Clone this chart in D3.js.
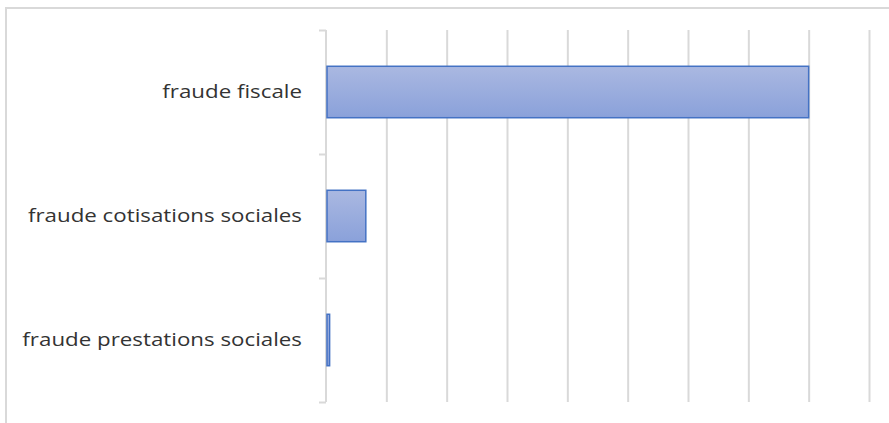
<!DOCTYPE html>
<html>
<head>
<meta charset="utf-8">
<script src="https://cdn.jsdelivr.net/npm/d3@7"></script>
<style>
  body { margin: 0; background: #fff; }
  .grid line { stroke: #d9d9d9; stroke-width: 2; }
  .grid path { display: none; }
  .y.axis text { font-family: "Open Sans", sans-serif; font-size: 18px; fill: #333; }
</style>
</head>
<body>
<div class="bar-chart-container"></div>
<script>
// données (en milliards ?)
const categories = ['fraude fiscale', 'fraude cotisations sociales', 'fraude prestations sociales'];
const values = [80, 6.6, 0.6];
const xTicks = [0, 10, 20, 30, 40, 50, 60, 70, 80, 90];

const svg_width = 889;
const svg_height = 423;
const margin = { top: 30, right: 20, bottom: 21, left: 326 };

const svg = d3.select('.bar-chart-container').append('svg')
  .attr('width', svg_width).attr('height', svg_height);

// cadre gris du graphique
svg.append('rect')
  .attr('x', 6).attr('y', 8)
  .attr('width', svg_width + 20).attr('height', svg_height + 20)
  .attr('fill', 'none').attr('stroke', '#d9d9d9').attr('stroke-width', 2);

// dégradé des barres
const grad = svg.append('defs').append('linearGradient')
  .attr('id', 'barGrad').attr('x1', 0).attr('y1', 0).attr('x2', 0).attr('y2', 1);
grad.append('stop').attr('offset', '0%').attr('stop-color', '#aab8e1');
grad.append('stop').attr('offset', '100%').attr('stop-color', '#8aa1da');

const xScale = d3.scaleLinear().domain([0, 90]).range([margin.left, 869]);
const yScale = d3.scaleBand().domain(categories)
  .range([margin.top, svg_height - margin.bottom])
  .paddingInner(0.585).paddingOuter(0.2925);
// limites des catégories pour les petites graduations
const yEdges = d3.scaleLinear().domain([0, categories.length])
  .range([margin.top, svg_height - margin.bottom]);

// lignes de grille verticales
svg.append('g').attr('class', 'grid')
  .attr('transform', `translate(0, ${margin.top})`)
  .call(d3.axisBottom(xScale).tickValues(xTicks.slice(1))
    .tickSize(svg_height - margin.bottom - margin.top).tickFormat(''));

// axe vertical + graduations aux limites
svg.append('g').attr('class', 'grid')
  .attr('transform', `translate(${margin.left}, 0)`)
  .call(d3.axisLeft(yEdges).ticks(3).tickSize(7).tickFormat(''));
svg.append('line')
  .attr('x1', margin.left).attr('x2', margin.left)
  .attr('y1', margin.top).attr('y2', svg_height - margin.bottom)
  .attr('stroke', '#d9d9d9').attr('stroke-width', 2);

// barres
svg.selectAll('.bar')
  .data(categories)
  .enter()
  .append('rect')
  .attr('class', 'bar')
  .attr('x', xScale(0) + 1)
  .attr('y', d => yScale(d))
  .attr('width', (d, i) => xScale(values[i]) - xScale(0) - 1)
  .attr('height', yScale.bandwidth())
  .attr('fill', 'url(#barGrad)')
  .attr('stroke', '#4472c4').attr('stroke-width', 1.5);

// étiquettes (police élargie comme sur l'original)
const yAxisDraw = svg.append('g').attr('class', 'y axis')
  .attr('transform', `translate(${margin.left}, 0)`)
  .call(d3.axisLeft(yScale).tickSize(0));
yAxisDraw.select('.domain').remove();
yAxisDraw.selectAll('text')
  .attr('x', 0)
  .attr('transform', 'translate(-24, 0) scale(1.24, 1)');
</script>
</body>
</html>
